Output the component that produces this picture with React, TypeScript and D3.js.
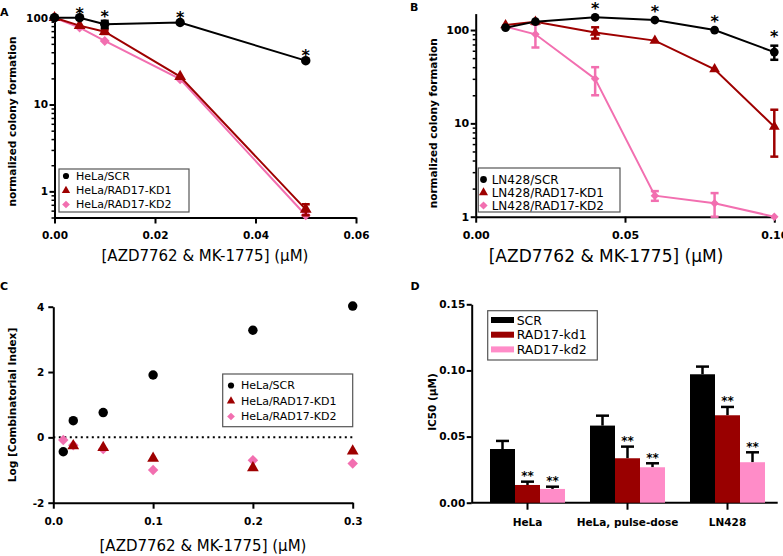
import React, { useRef, useEffect } from "react";
import * as d3 from "d3";

const FONT = "'DejaVu Sans', Verdana, sans-serif";
const BLACK = "#000000";
const RED = "#9e0000";
const PINK = "#f26fb0";
const PINK_BAR = "#ff8cc8";

// panel A: HeLa colony formation
const dosesA = [0, 0.005, 0.01, 0.025, 0.05];
const helaScr = [100, 100, 84, 88, 32];
const helaScrSem = [0, 0, 8, 0, 0];
const helaKd1 = [100, 81, 69, 21, 0.62];
const helaKd1Sem = [0, 0, 4, 0, 0.09];
const helaKd2 = [100, 77, 54, 19.6, 0.53];
const helaKd2Sem = [0, 0, 0, 0, 0];
const starsA = [false, true, true, true, true];
const xTicksA = [0, 0.02, 0.04, 0.06];

// panel B: LN428 colony formation
const dosesB = [0.01, 0.02, 0.04, 0.06, 0.08, 0.1];
const lnScr = [106, 123, 137, 128, 100, 58];
const lnScrSem = [0, 0, 0, 0, 0, 10];
const lnKd1 = [113, 123, 94, 77, 38, 9.2];
const lnKd1Sem = [0, 0, 13, 0, 0, 4.8];
const lnKd2 = [109, 90, 30, 1.68, 1.39, 1.0];
const lnKd2Sem = [0, 25, 10, 0.2, 0.4, 0];
const starsB = [false, false, true, true, true, true];
const xTicksB = [0, 0.05, 0.1];

// panel C: combinatorial index
const dosesC = [0.01, 0.02, 0.05, 0.1, 0.2, 0.3];
const ciScr = [-0.44, 0.51, 0.76, 1.91, 3.28, 4.02];
const ciKd1 = [null, -0.26, -0.31, -0.64, -0.93, -0.42];
const ciKd2 = [-0.08, -0.24, -0.36, -1.0, -0.7, -0.8];
const xTicksC = [0, 0.1, 0.2, 0.3];
const yTicksC = [-2, 0, 2, 4];

// panel D: IC50
const cellLines = ["HeLa", "HeLa, pulse-dose", "LN428"];
const barSeries = ["SCR", "RAD17-kd1", "RAD17-kd2"];
const ic50Scr = [0.0406, 0.0583, 0.0971];
const ic50ScrSem = [0.0061, 0.0075, 0.0058];
const ic50Kd1 = [0.0134, 0.0336, 0.0661];
const ic50Kd1Sem = [0.0025, 0.0088, 0.0063];
const ic50Kd2 = [0.0104, 0.0268, 0.0306];
const ic50Kd2Sem = [0.0017, 0.003, 0.0075];
const starsD = [false, true, true];
const yTicksD = [0, 0.05, 0.1, 0.15];

// square rotated 45 deg (the d3 diamond is too tall)
const squareDiamond = {
  draw(ctx, size) {
    const r = Math.sqrt(size / 2);
    ctx.moveTo(0, -r);
    ctx.lineTo(r, 0);
    ctx.lineTo(0, r);
    ctx.lineTo(-r, 0);
    ctx.closePath();
  },
};

function styleAxis(g, size = 10.5) {
  g.select(".domain").attr("stroke", BLACK).attr("stroke-width", 2);
  g.selectAll(".tick line").attr("stroke", BLACK).attr("stroke-width", 2);
  g.selectAll(".tick text")
    .attr("font-family", FONT)
    .attr("font-weight", "bold")
    .attr("font-size", size)
    .attr("fill", BLACK);
}

function logMinors(lo, hi) {
  const out = [];
  for (let p = -1; p <= 3; p++) {
    for (let m = 2; m <= 9; m++) {
      const v = +(m * Math.pow(10, p)).toPrecision(3);
      if (v >= lo - 1e-9 && v <= hi + 1e-9) out.push(v);
    }
  }
  return out;
}

function logAxis(g, y, x0, majors, lo, hi, fs = 10.5) {
  const ga = g.append("g").attr("transform", `translate(${x0},0)`)
    .call(d3.axisLeft(y).tickValues(majors).tickFormat(d3.format("d")).tickSize(5).tickSizeOuter(0).tickPadding(1.5));
  styleAxis(ga, fs);
  const gm = g.append("g").attr("transform", `translate(${x0},0)`)
    .call(d3.axisLeft(y).tickValues(logMinors(lo, hi)).tickFormat(() => "").tickSize(3).tickSizeOuter(0));
  gm.select(".domain").remove();
  gm.selectAll(".tick line").attr("stroke", BLACK).attr("stroke-width", 1.5);
}

function symPath(type, size) {
  return d3.symbol().type(type).size(size)();
}

function drawSeries(g, x, y, doses, vals, sem, color, type, size, floor) {
  const pts = doses.map((d, i) => ({ d, v: vals[i], s: sem[i] }));
  const line = d3.line().x((p) => x(p.d)).y((p) => y(p.v));
  g.append("path").attr("d", line(pts)).attr("fill", "none").attr("stroke", color).attr("stroke-width", 2);
  pts.filter((p) => p.s > 0).forEach((p) => {
    const lo = Math.max(p.v - p.s, floor);
    const hi = p.v + p.s;
    const cx = x(p.d);
    g.append("line").attr("x1", cx).attr("x2", cx).attr("y1", y(lo)).attr("y2", y(hi)).attr("stroke", color).attr("stroke-width", 2.5);
    [lo, hi].forEach((e) => {
      g.append("line").attr("x1", cx - 4).attr("x2", cx + 4).attr("y1", y(e)).attr("y2", y(e)).attr("stroke", color).attr("stroke-width", 2.5);
    });
  });
  g.selectAll(null).data(pts).join("path")
    .attr("d", symPath(type, size))
    .attr("transform", (p) => `translate(${x(p.d)},${y(p.v)})`)
    .attr("fill", color);
}

function drawStars(g, x, y, doses, vals, sem, flags, gap, fs = 16) {
  doses.forEach((d, i) => {
    if (!flags[i]) return;
    const cy = y(vals[i] + sem[i]) - gap;
    g.append("text").attr("x", x(d)).attr("y", cy + fs * 0.55).attr("text-anchor", "middle")
      .attr("font-family", FONT).attr("font-weight", "bold").attr("font-size", fs).text("*");
  });
}

function legend(g, box, rows, mx, tx, fs) {
  g.append("rect").attr("x", box[0]).attr("y", box[1]).attr("width", box[2]).attr("height", box[3])
    .attr("fill", "white").attr("stroke", "#555").attr("stroke-width", 1.2);
  rows.forEach((r) => {
    g.append("path").attr("d", symPath(r.type, r.size)).attr("transform", `translate(${mx},${r.y})`).attr("fill", r.color);
    g.append("text").attr("x", tx).attr("y", r.y).attr("dy", "0.36em").attr("font-family", FONT)
      .attr("font-size", fs).text(r.label);
  });
}

function label(g, txt, x, y, fs, bold, anchor = "start", rotate = false) {
  const t = g.append("text").attr("font-family", FONT).attr("font-size", fs)
    .attr("font-weight", bold ? "bold" : "normal").attr("text-anchor", anchor).text(txt);
  if (rotate) t.attr("transform", `translate(${x},${y}) rotate(-90)`);
  else t.attr("x", x).attr("y", y);
}

function App() {
  const ref = useRef(null);

  useEffect(() => {
    const svg = d3.select(ref.current);
    svg.selectAll("*").remove();
    svg.append("rect").attr("width", 783).attr("height", 556).attr("fill", "white");

    // ---------- A ----------
    const gA = svg.append("g");
    const xA = d3.scaleLinear().domain([0, 0.06]).range([54.5, 356]);
    const yA = d3.scaleLog().domain([0.5, 100]).range([217.5, 17.7]);
    logAxis(gA, yA, xA(0), [1, 10, 100], 0.5, 100);
    const axA = gA.append("g").attr("transform", `translate(0,${yA(0.5)})`)
      .call(d3.axisBottom(xA).tickValues(xTicksA).tickFormat(d3.format(".2f")).tickSize(6).tickSizeOuter(0).tickPadding(8));
    styleAxis(axA);
    drawSeries(gA, xA, yA, dosesA, helaKd2, helaKd2Sem, PINK, squareDiamond, 50, 0.5);
    drawSeries(gA, xA, yA, dosesA, helaKd1, helaKd1Sem, RED, d3.symbolTriangle, 60, 0.5);
    drawSeries(gA, xA, yA, dosesA, helaScr, helaScrSem, BLACK, d3.symbolCircle, 70, 0.5);
    drawStars(gA, xA, yA, dosesA, helaScr, helaScrSem, starsA, 8);
    legend(gA, [59, 169, 130, 43], [
      { label: "HeLa/SCR", color: BLACK, type: d3.symbolCircle, size: 30, y: 176 },
      { label: "HeLa/RAD17-KD1", color: RED, type: d3.symbolTriangle, size: 30, y: 190.5 },
      { label: "HeLa/RAD17-KD2", color: PINK, type: squareDiamond, size: 30, y: 204.5 },
    ], 66, 76, 11);
    label(gA, "A", 0, 16, 11, true);
    label(gA, "normalized colony formation", 16, 121.5, 10.5, true, "middle", true);
    label(gA, "[AZD7762 & MK-1775] (μM)", 205, 261, 15, false, "middle");

    // ---------- B ----------
    const gB = svg.append("g");
    const xB = d3.scaleLinear().domain([0, 0.1]).range([475.7, 774.3]);
    const yB = d3.scaleLog().domain([1, 150]).range([216.7, 13.6]);
    logAxis(gB, yB, xB(0), [1, 10, 100], 1, 150, 11);
    const axB = gB.append("g").attr("transform", `translate(0,${yB(1)})`)
      .call(d3.axisBottom(xB).tickValues(xTicksB).tickFormat(d3.format(".2f")).tickSize(6).tickSizeOuter(0).tickPadding(9));
    styleAxis(axB, 11);
    drawSeries(gB, xB, yB, dosesB, lnKd2, lnKd2Sem, PINK, squareDiamond, 36, 1);
    drawSeries(gB, xB, yB, dosesB, lnKd1, lnKd1Sem, RED, d3.symbolTriangle, 50, 1);
    drawSeries(gB, xB, yB, dosesB, lnScr, lnScrSem, BLACK, d3.symbolCircle, 60, 1);
    drawStars(gB, xB, yB, dosesB, lnScr, lnScrSem, starsB, 12);
    legend(gB, [478.3, 168, 141.7, 44], [
      { label: "LN428/SCR", color: BLACK, type: d3.symbolCircle, size: 36, y: 179.5 },
      { label: "LN428/RAD17-KD1", color: RED, type: d3.symbolTriangle, size: 36, y: 192.5 },
      { label: "LN428/RAD17-KD2", color: PINK, type: squareDiamond, size: 34, y: 205.5 },
    ], 483.5, 491.7, 12);
    label(gB, "B", 410, 10.5, 11, true);
    label(gB, "normalized colony formation", 437, 123.3, 10.5, true, "middle", true);
    label(gB, "[AZD7762 & MK-1775] (μM)", 606, 262, 17, false, "middle");

    // ---------- C ----------
    const gC = svg.append("g");
    const xC = d3.scaleLinear().domain([0, 0.3]).range([53.3, 352.7]);
    const yC = d3.scaleLinear().domain([-2, 4]).range([502.7, 306.7]);
    const ayC = gC.append("g").attr("transform", `translate(${xC(0)},0)`)
      .call(d3.axisLeft(yC).tickValues(yTicksC).tickFormat(d3.format("d")).tickSize(5).tickSizeOuter(0).tickPadding(4));
    styleAxis(ayC);
    ayC.selectAll(".tick text").text((d) => (d < 0 ? "-" + Math.abs(d) : String(d)));
    const axC = gC.append("g").attr("transform", `translate(0,${yC(-2)})`)
      .call(d3.axisBottom(xC).tickValues(xTicksC).tickFormat(d3.format(".1f")).tickSize(6).tickSizeOuter(0).tickPadding(8.5));
    styleAxis(axC);
    gC.append("line").attr("x1", xC(0)).attr("x2", xC(0.3)).attr("y1", yC(0)).attr("y2", yC(0))
      .attr("stroke", BLACK).attr("stroke-width", 2).attr("stroke-dasharray", "2,3.5");
    const scatter = (vals, color, type, size) => {
      const pts = dosesC.map((d, i) => ({ d, v: vals[i] })).filter((p) => p.v !== null);
      gC.selectAll(null).data(pts).join("path").attr("d", symPath(type, size))
        .attr("transform", (p) => `translate(${xC(p.d)},${yC(p.v)})`).attr("fill", color);
    };
    scatter(ciKd2, PINK, squareDiamond, 55);
    scatter(ciKd1, RED, d3.symbolTriangle, 60);
    scatter(ciScr, BLACK, d3.symbolCircle, 70);
    legend(gC, [222.7, 374, 130, 52.7], [
      { label: "HeLa/SCR", color: BLACK, type: d3.symbolCircle, size: 30, y: 385.5 },
      { label: "HeLa/RAD17-KD1", color: RED, type: d3.symbolTriangle, size: 30, y: 401 },
      { label: "HeLa/RAD17-KD2", color: PINK, type: squareDiamond, size: 30, y: 416.5 },
    ], 231, 241, 11);
    label(gC, "C", 0, 289.5, 11, true);
    label(gC, "Log [Combinatorial Index]", 15.5, 405, 10.5, true, "middle", true);
    label(gC, "[AZD7762 & MK-1775] (μM)", 203, 550.5, 15, false, "middle");

    // ---------- D ----------
    const gD = svg.append("g");
    const yD = d3.scaleLinear().domain([0, 0.15]).range([502.7, 304.3]);
    const xD = d3.scaleBand().domain(cellLines).range([465, 790]).paddingInner(0.25).paddingOuter(0.25);
    const xSub = d3.scaleBand().domain(barSeries).range([0, xD.bandwidth()]);
    const ayD = gD.append("g").attr("transform", "translate(471.7,0)")
      .call(d3.axisLeft(yD).tickValues(yTicksD).tickFormat(d3.format(".2f")).tickSize(5).tickSizeOuter(0).tickPadding(1.5));
    styleAxis(ayD);
    const axD = gD.append("g").attr("transform", `translate(0,${yD(0)})`);
    axD.append("line").attr("x1", 471.7).attr("x2", 777.7).attr("y1", 0).attr("y2", 0).attr("stroke", BLACK).attr("stroke-width", 2);
    cellLines.forEach((c) => {
      const cx = xD(c) + xD.bandwidth() / 2;
      axD.append("line").attr("x1", cx).attr("x2", cx).attr("y1", 0).attr("y2", 7).attr("stroke", BLACK).attr("stroke-width", 2);
      axD.append("text").attr("x", cx).attr("y", 23).attr("text-anchor", "middle").attr("font-family", FONT)
        .attr("font-weight", "bold").attr("font-size", 10.5).text(c);
    });
    const bars = [
      { name: "SCR", vals: ic50Scr, sem: ic50ScrSem, color: BLACK, err: BLACK },
      { name: "RAD17-kd1", vals: ic50Kd1, sem: ic50Kd1Sem, color: "#990000", err: BLACK },
      { name: "RAD17-kd2", vals: ic50Kd2, sem: ic50Kd2Sem, color: PINK_BAR, err: BLACK },
    ];
    bars.forEach((s, si) => {
      cellLines.forEach((c, ci) => {
        const x0 = xD(c) + xSub(s.name);
        const w = xSub.bandwidth();
        const top = yD(s.vals[ci]);
        const et = yD(s.vals[ci] + s.sem[ci]);
        const cx = x0 + w / 2;
        gD.append("line").attr("x1", cx).attr("x2", cx).attr("y1", top).attr("y2", et).attr("stroke", s.err).attr("stroke-width", 2.5);
        gD.append("line").attr("x1", cx - 6.5).attr("x2", cx + 6.5).attr("y1", et).attr("y2", et).attr("stroke", s.err).attr("stroke-width", 2.5);
        gD.append("rect").attr("x", x0).attr("y", top).attr("width", w).attr("height", yD(0) - top).attr("fill", s.color);
        if (starsD[si]) {
          gD.append("text").attr("x", cx).attr("y", et - 8 + 6.5).attr("text-anchor", "middle").attr("font-family", FONT)
            .attr("font-weight", "bold").attr("font-size", 12).text("**");
        }
      });
    });
    gD.append("rect").attr("x", 487.7).attr("y", 310.7).attr("width", 109.6).attr("height", 49.3)
      .attr("fill", "white").attr("stroke", "#555").attr("stroke-width", 1.2);
    bars.forEach((s, i) => {
      const ly = 320 + i * 14.7;
      gD.append("rect").attr("x", 491).attr("y", ly - 3).attr("width", 23).attr("height", 6).attr("fill", s.color);
      gD.append("text").attr("x", 516.7).attr("y", ly).attr("dy", "0.36em").attr("font-family", FONT)
        .attr("font-size", 12.5).text(s.name);
    });
    label(gD, "D", 410.5, 290, 11, true);
    label(gD, "IC50 (μM)", 436, 402, 10.5, true, "middle", true);
  }, []);

  return (
    <div style={{ position: "absolute", left: 0, top: 0 }}>
      <svg ref={ref} width={783} height={556} style={{ display: "block" }}></svg>
    </div>
  );
}

export default App;
